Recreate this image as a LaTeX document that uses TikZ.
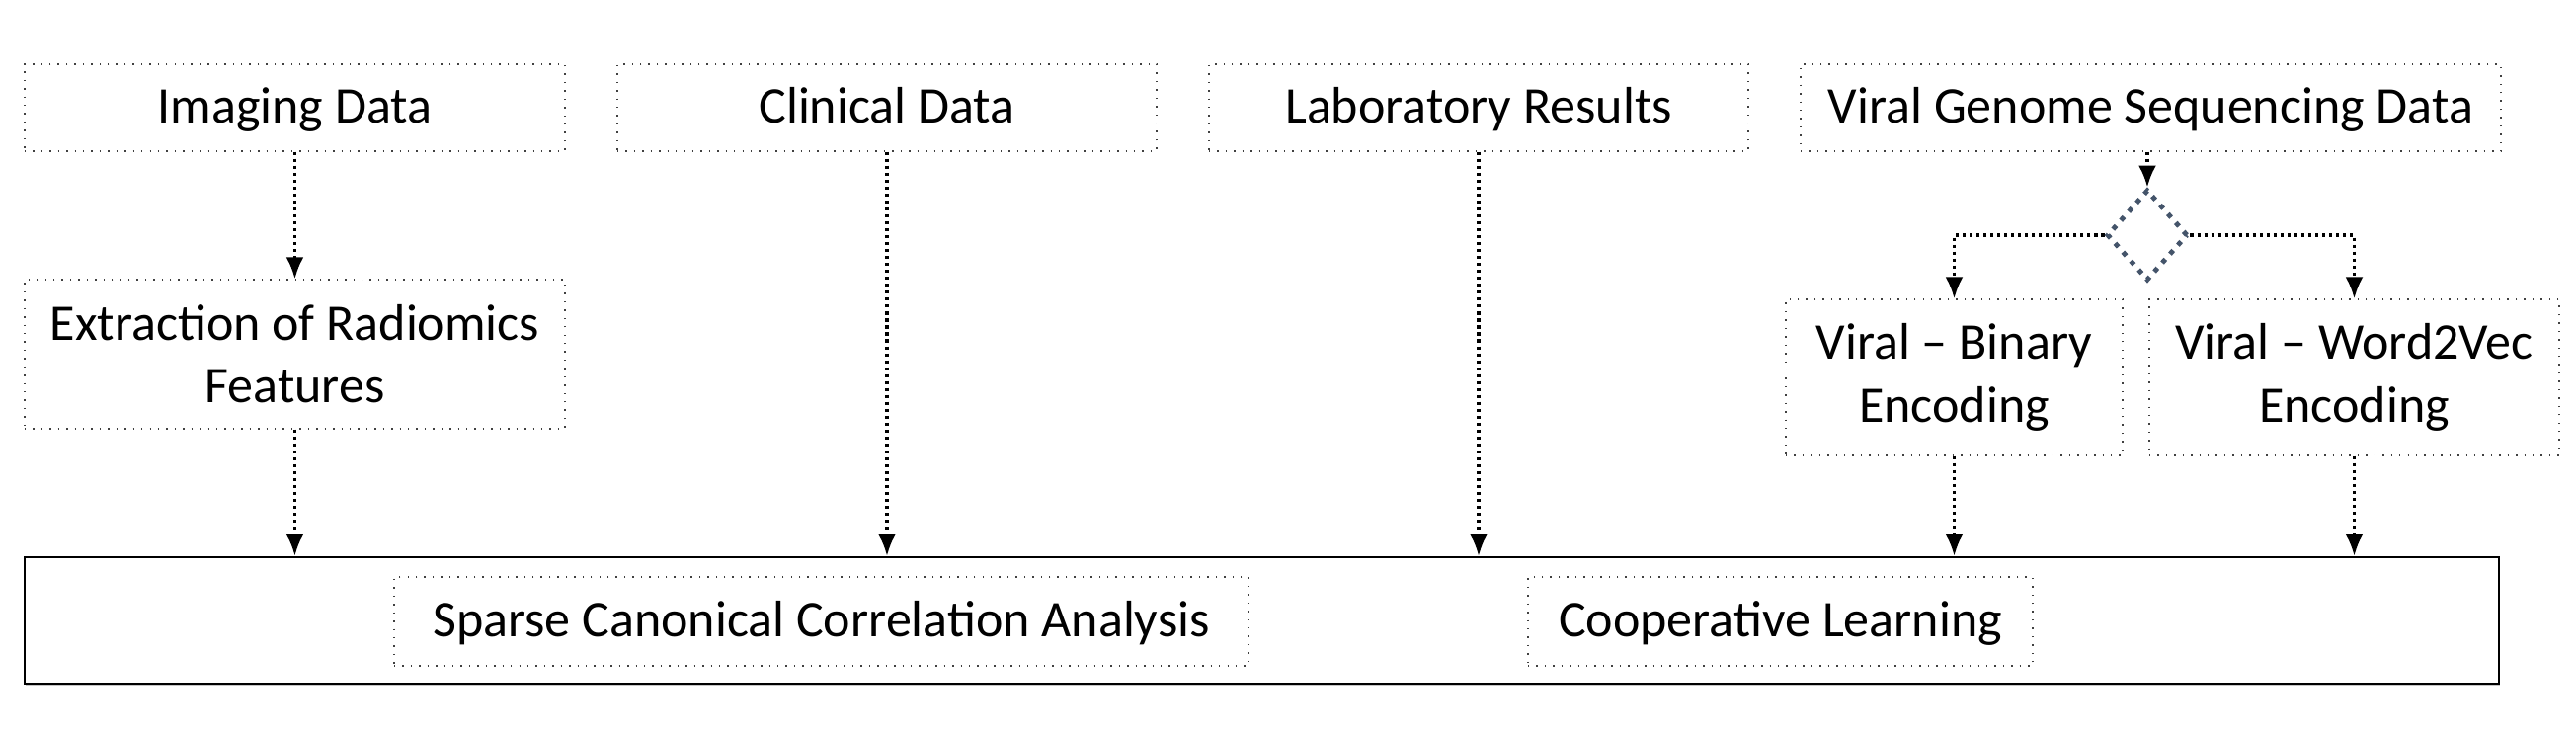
\documentclass[tikz,border=0pt]{standalone}
\usepackage{fontspec}
\setmainfont{Carlito}
\usetikzlibrary{arrows.meta, shapes.geometric, shadows}
\tikzset{>={Latex[length=2.2mm,width=1.8mm]}}
\definecolor{slate}{HTML}{44546A}
\tikzset{
  databox/.style={draw=black!75, dotted, line width=0.4pt, minimum height=0.88cm, inner sep=0pt, align=center},
  oneline/.style={text height=2.15ex, text depth=0.3ex},
  flow/.style={->, dash pattern=on 0.9pt off 1.1pt, line width=0.9pt},
}

\begin{document}
\begin{tikzpicture}[font=\fontsize{14.8}{18}\selectfont]
     \useasboundingbox (0,0) rectangle (26.08,7.48);
     % data sources
     \node[databox, oneline, minimum width=5.47cm] (img) at (2.985,6.39) {Imaging Data};
     \node[databox, oneline, minimum width=5.46cm] (cli) at (8.98,6.39) {Clinical Data};
     \node[databox, oneline, minimum width=5.46cm] (lab) at (14.97,6.39) {Laboratory Results};
     \node[databox, oneline, minimum width=7.09cm] (vir) at (21.775,6.39) {Viral Genome Sequencing Data};
     \node[databox, minimum width=5.47cm, minimum height=1.51cm] (ext) at (2.985,3.895) {Extraction of Radiomics\\Features};
     \node[diamond, draw=slate, dotted, line width=1.4pt, minimum width=0.82cm, minimum height=0.92cm, inner sep=0pt] (dia) at (21.74,5.10) {};
     \node[databox, minimum width=3.41cm, minimum height=1.58cm] (bin) at (19.785,3.66) {Viral -- Binary\\Encoding};
     \node[databox, minimum width=4.15cm, minimum height=1.58cm] (w2v) at (23.835,3.66) {Viral -- Word2Vec\\Encoding};
     % analysis
     \node[draw, line width=0.7pt, fill=white, drop shadow={shadow xshift=0.4pt, shadow yshift=-0.6pt, fill=black!45}, minimum width=25.05cm, minimum height=1.28cm] (big) at (12.775,1.20) {};
     \node[databox, oneline, minimum width=8.65cm, minimum height=0.9cm] (scca) at (8.315,1.19) {Sparse Canonical Correlation Analysis};
     \node[databox, oneline, minimum width=5.11cm, minimum height=0.9cm] (coop) at (18.025,1.19) {Cooperative Learning};
     % connectors
     \draw[flow] (img) -- (ext);
     \draw[flow] (ext) -- (ext.south |- big.north);
     \draw[flow] (cli) -- (cli.south |- big.north);
     \draw[flow] (lab) -- (lab.south |- big.north);
     \draw[flow] (vir.south -| dia.north) -- (dia.north);
     \draw[flow] (dia.west) -| (bin.north);
     \draw[flow] (dia.east) -| (w2v.north);
     \draw[flow] (bin) -- (bin.south |- big.north);
     \draw[flow] (w2v) -- (w2v.south |- big.north);
\end{tikzpicture}
\end{document}
